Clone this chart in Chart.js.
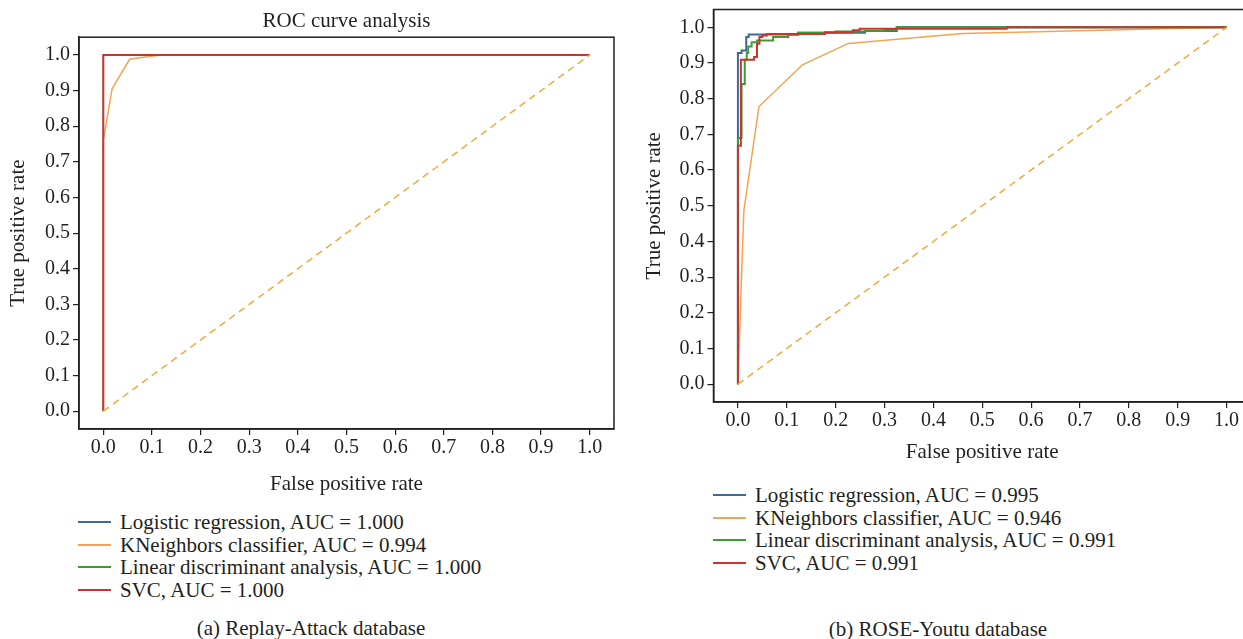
<!DOCTYPE html>
<html>
<head>
<meta charset="utf-8">
<script src="https://cdn.jsdelivr.net/npm/chart.js@4.4.1/dist/chart.umd.min.js"></script>
<style>
  html, body { margin: 0; padding: 0; background: #fff; }
  #wrap { position: relative; width: 1243px; height: 639px; overflow: hidden; background: #fff;
          font-family: "Liberation Serif", "DejaVu Serif", serif; color: #231f20; }
  canvas { position: absolute; top: 0; }
  .legend { position: absolute; font-size: 21px; line-height: 22.5px; white-space: nowrap; }
  .legend .row { height: 22.5px; display: flex; align-items: center; }
  .legend .sw { display: inline-block; width: 33px; height: 1.6px; margin-right: 9px; }
  .caption { position: absolute; font-size: 21px; white-space: nowrap; transform: translate(-50%, -50%); }
</style>
</head>
<body>
<div id="wrap">
  <canvas id="cA" width="624" height="500" style="left:0px;width:624px;height:500px"></canvas>
  <canvas id="cB" width="640" height="470" style="left:620px;width:640px;height:470px"></canvas>
  <div id="legA" class="legend" style="left:78px;top:511px"></div>
  <div id="legB" class="legend" style="left:713px;top:484px"></div>
  <div class="caption" style="left:311px;top:628px">(a) Replay-Attack database</div>
  <div class="caption" style="left:938px;top:629px">(b) ROSE-Youtu database</div>
</div>
<script>
// ---------- tick labels ----------
const tickValues = [0.0, 0.1, 0.2, 0.3, 0.4, 0.5, 0.6, 0.7, 0.8, 0.9, 1.0];
const tickLabels = ['0.0', '0.1', '0.2', '0.3', '0.4', '0.5', '0.6', '0.7', '0.8', '0.9', '1.0'];

// ---------- series names ----------
const seriesNames = ['Logistic regression', 'KNeighbors classifier', 'Linear discriminant analysis', 'SVC'];
const aucA = ['1.000', '0.994', '1.000', '1.000'];
const aucB = ['0.995', '0.946', '0.991', '0.991'];

// ---------- (a) Replay-Attack ----------
const lrA_fpr  = [0, 0, 1];
const lrA_tpr  = [0, 1, 1];
const knnA_fpr = [0, 0, 0.018, 0.054, 0.117, 1];
const knnA_tpr = [0, 0.76, 0.905, 0.988, 1.0, 1];
const ldaA_fpr = [0, 0, 1];
const ldaA_tpr = [0, 1, 1];
const svcA_fpr = [0, 0, 1];
const svcA_tpr = [0, 1, 1];

// ---------- (b) ROSE-Youtu ----------
const lrB_fpr  = [0, 0, 0.0075, 0.0075, 0.017, 0.017, 0.022, 0.022, 0.123, 0.123, 0.26, 0.26, 0.325, 0.325, 1];
const lrB_tpr  = [0, 0.928, 0.928, 0.935, 0.935, 0.973, 0.973, 0.980, 0.980, 0.985, 0.985, 0.990, 0.990, 1.0, 1.0];
const knnB_fpr = [0, 0.012, 0.043, 0.132, 0.226, 0.461, 1];
const knnB_tpr = [0, 0.485, 0.778, 0.895, 0.955, 0.983, 1];
const ldaB_fpr = [0, 0, 0.0075, 0.0075, 0.014, 0.014, 0.018, 0.018, 0.021, 0.021, 0.028, 0.028, 0.039, 0.039, 0.072, 0.072, 0.103, 0.103, 0.123, 0.123, 0.2, 0.2, 0.26, 0.26, 0.30, 0.30, 0.325, 0.325, 1];
const ldaB_tpr = [0, 0.69, 0.69, 0.841, 0.841, 0.909, 0.909, 0.928, 0.928, 0.946, 0.946, 0.958, 0.958, 0.963, 0.963, 0.973, 0.973, 0.979, 0.979, 0.985, 0.985, 0.988, 0.988, 0.990, 0.990, 0.993, 0.993, 1.0, 1.0];
const svcB_fpr = [0, 0, 0.006, 0.006, 0.033, 0.033, 0.039, 0.039, 0.044, 0.044, 0.05, 0.05, 0.059, 0.059, 0.178, 0.178, 0.235, 0.235, 0.249, 0.249, 0.55, 0.55, 1];
const svcB_tpr = [0, 0.668, 0.668, 0.909, 0.909, 0.917, 0.917, 0.954, 0.954, 0.973, 0.973, 0.977, 0.977, 0.981, 0.981, 0.986, 0.986, 0.992, 0.992, 0.996, 0.996, 1.0, 1.0];

// chance diagonal
const diag_fpr = [0, 1];
const diag_tpr = [0, 1];

// ---------- styling ----------
const colors = ['#3f6a96', '#f2a455', '#3f9a37', '#c8352d'];
const diagColor = '#efab3c';
const axisColor = '#231f20';
const FONT = '"Liberation Serif", "DejaVu Serif", serif';

function pts(xs, ys) { return xs.map((x, i) => ({ x: x, y: ys[i] })); }

function makeDatasets(series, widths) {
  const ds = series.map((s, i) => ({
    label: seriesNames[i],
    data: pts(s[0], s[1]),
    borderColor: colors[i],
    backgroundColor: colors[i],
    borderWidth: widths[i],
    pointRadius: 0,
    tension: 0,
    fill: false,
    order: 10 - i
  }));
  ds.push({
    label: 'chance',
    data: pts(diag_fpr, diag_tpr),
    borderColor: diagColor,
    borderWidth: 1.5,
    borderDash: [7, 5],
    pointRadius: 0,
    fill: false,
    order: 0
  });
  return ds;
}

const framePlugin = {
  id: 'frame',
  afterDraw(chart) {
    const a = chart.chartArea, ctx = chart.ctx;
    ctx.save();
    ctx.strokeStyle = axisColor;
    ctx.lineWidth = 1.5;
    ctx.strokeRect(a.left, a.top, a.right - a.left, a.bottom - a.top);
    ctx.restore();
  }
};

function axis(opts) {
  return {
    type: 'linear',
    min: -0.05,
    max: 1.05,
    afterBuildTicks(scale) { scale.ticks = tickValues.map(v => ({ value: v })); },
    afterFit(scale) {
      if (opts.width !== undefined) scale.width = opts.width;
      if (opts.height !== undefined) scale.height = opts.height;
      scale.paddingTop = 0; scale.paddingBottom = 0;
      scale.paddingLeft = 0; scale.paddingRight = 0;
    },
    ticks: {
      autoSkip: false, maxRotation: 0, minRotation: 0,
      padding: opts.tickPad,
      color: axisColor,
      font: { family: FONT, size: 20 },
      callback: (v, i) => tickLabels[i]
    },
    grid: { display: true, drawOnChartArea: false, drawTicks: true, tickLength: 6, color: axisColor, lineWidth: 1.2 },
    border: { display: true, color: axisColor, width: 1.5 },
    title: {
      display: true, text: opts.title, color: axisColor,
      font: { family: FONT, size: 21 },
      padding: opts.titlePad
    }
  };
}

function makeChart(id, series, widths, cfg) {
  return new Chart(document.getElementById(id), {
    type: 'line',
    data: { datasets: makeDatasets(series, widths) },
    options: {
      responsive: false,
      animation: false,
      events: [],
      layout: { padding: cfg.padding },
      scales: {
        x: axis({ height: cfg.xh, tickPad: 1, title: 'False positive rate', titlePad: { top: 0, bottom: cfg.xtb } }),
        y: axis({ width: cfg.yw, tickPad: 3, title: 'True positive rate', titlePad: { top: cfg.ytt, bottom: 0 } })
      },
      plugins: {
        legend: { display: false },
        tooltip: { enabled: false },
        title: cfg.title ? {
          display: true, text: cfg.title, color: axisColor, fullSize: false,
          font: { family: FONT, size: 21, weight: 'normal' },
          padding: { top: 9, bottom: 3 }
        } : { display: false }
      }
    },
    plugins: [framePlugin]
  });
}

const seriesA = [[lrA_fpr, lrA_tpr], [knnA_fpr, knnA_tpr], [ldaA_fpr, ldaA_tpr], [svcA_fpr, svcA_tpr]];
const seriesB = [[lrB_fpr, lrB_tpr], [knnB_fpr, knnB_tpr], [ldaB_fpr, ldaB_tpr], [svcB_fpr, svcB_tpr]];

makeChart('cA', seriesA, [1, 1.5, 1, 2], {
  title: 'ROC curve analysis',
  padding: { left: 0, right: 10, top: 0, bottom: 0 },
  yw: 79, xh: 71, xtb: 3.4, ytt: 5.4
});
makeChart('cB', seriesB, [2, 1.5, 2, 2], {
  title: null,
  padding: { left: 0, right: 9, top: 9.5, bottom: 0 },
  yw: 93.5, xh: 68, xtb: 5.4, ytt: 21.4
});

function buildLegend(id, auc) {
  const el = document.getElementById(id);
  seriesNames.forEach((n, i) => {
    const row = document.createElement('div');
    row.className = 'row';
    const sw = document.createElement('span');
    sw.className = 'sw';
    sw.style.background = colors[i];
    const tx = document.createElement('span');
    tx.textContent = n + ', AUC = ' + auc[i];
    row.appendChild(sw); row.appendChild(tx);
    el.appendChild(row);
  });
}
buildLegend('legA', aucA);
buildLegend('legB', aucB);
</script>
</body>
</html>
